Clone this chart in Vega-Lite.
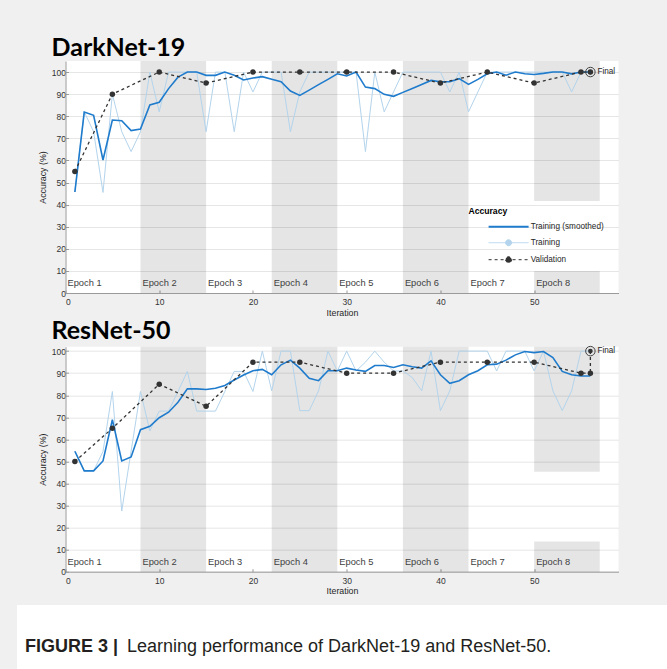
{
  "$schema": "https://vega.github.io/schema/vega-lite/v6.json",
  "background": "#f0f0f0",
  "padding": {"top": 36, "left": 17, "right": 0, "bottom": 0},
  "center": true,
  "spacing": 9,
  "resolve": {"scale": {"color": "independent"}, "legend": {"color": "independent"}},
  "config": {
    "font": "Liberation Sans",
    "view": {"fill": "white", "stroke": null},
    "axis": {
      "labelFont": "Liberation Sans", "labelFontSize": 8.5, "labelColor": "#333333",
      "titleFont": "Liberation Sans", "titleFontSize": 8.8, "titleFontWeight": "normal", "titleColor": "#262626",
      "domainColor": "#9a9a9a", "tickColor": "#9a9a9a", "gridColor": "#e6e6e6", "tickSize": -3
    },
    "legend": {
      "orient": "none", "padding": 0,
      "titleFont": "Liberation Sans", "titleFontSize": 8.6, "titleFontWeight": "bold", "titleColor": "#000000",
      "labelFont": "Liberation Sans", "labelFontSize": 8.2, "labelColor": "#262626",
      "rowPadding": 6, "titlePadding": 7, "symbolOffset": 36, "labelOffset": 18, "symbolSize": 100
    }
  },
  "datasets": {
    "bands_dn": [
      {"i": 8, "i2": 15, "v": 0, "v2": 105},
      {"i": 22, "i2": 29, "v": 0, "v2": 105},
      {"i": 36, "i2": 43, "v": 0, "v2": 105},
      {"i": 50, "i2": 57, "v": 41.6, "v2": 105},
      {"i": 50, "i2": 57, "v": 0, "v2": 10}
    ],
    "bands_rn": [
      {"i": 8, "i2": 15, "v": 0, "v2": 102},
      {"i": 22, "i2": 29, "v": 0, "v2": 102},
      {"i": 36, "i2": 43, "v": 0, "v2": 102},
      {"i": 50, "i2": 57, "v": 45.3, "v2": 102},
      {"i": 50, "i2": 57, "v": 0, "v2": 13.7}
    ],
    "epochs": [
      {"i": 0, "v": 4.5, "label": "Epoch 1"},
      {"i": 8, "v": 4.5, "label": "Epoch 2"},
      {"i": 15, "v": 4.5, "label": "Epoch 3"},
      {"i": 22, "v": 4.5, "label": "Epoch 4"},
      {"i": 29, "v": 4.5, "label": "Epoch 5"},
      {"i": 36, "v": 4.5, "label": "Epoch 6"},
      {"i": 43, "v": 4.5, "label": "Epoch 7"},
      {"i": 50, "v": 4.5, "label": "Epoch 8"}
    ],
    "final_dn": [{"i": 56, "v": 100, "label": "Final"}],
    "final_rn": [{"i": 56, "v": 100, "v0": 90, "label": "Final"}],
    "dn": [
      {"s":"Training","i":1,"v":45.7},{"s":"Training","i":2,"v":82},{"s":"Training","i":3,"v":73},{"s":"Training","i":4,"v":45.5},
      {"s":"Training","i":5,"v":90},{"s":"Training","i":6,"v":73},{"s":"Training","i":7,"v":64},{"s":"Training","i":8,"v":73},
      {"s":"Training","i":9,"v":100},{"s":"Training","i":10,"v":82},{"s":"Training","i":11,"v":100},{"s":"Training","i":12,"v":100},
      {"s":"Training","i":13,"v":100},{"s":"Training","i":14,"v":100},{"s":"Training","i":15,"v":73},{"s":"Training","i":16,"v":100},
      {"s":"Training","i":17,"v":100},{"s":"Training","i":18,"v":73},{"s":"Training","i":19,"v":100},{"s":"Training","i":20,"v":91},
      {"s":"Training","i":21,"v":100},{"s":"Training","i":22,"v":100},{"s":"Training","i":23,"v":100},{"s":"Training","i":24,"v":73},
      {"s":"Training","i":25,"v":91},{"s":"Training","i":26,"v":100},{"s":"Training","i":27,"v":100},{"s":"Training","i":28,"v":100},
      {"s":"Training","i":29,"v":100},{"s":"Training","i":30,"v":100},{"s":"Training","i":31,"v":100},{"s":"Training","i":32,"v":64},
      {"s":"Training","i":33,"v":100},{"s":"Training","i":34,"v":82},{"s":"Training","i":35,"v":91},{"s":"Training","i":36,"v":100},
      {"s":"Training","i":37,"v":100},{"s":"Training","i":38,"v":100},{"s":"Training","i":39,"v":100},{"s":"Training","i":40,"v":100},
      {"s":"Training","i":41,"v":91},{"s":"Training","i":42,"v":100},{"s":"Training","i":43,"v":82},{"s":"Training","i":44,"v":91},
      {"s":"Training","i":45,"v":100},{"s":"Training","i":46,"v":100},{"s":"Training","i":47,"v":100},{"s":"Training","i":48,"v":100},
      {"s":"Training","i":49,"v":100},{"s":"Training","i":50,"v":100},{"s":"Training","i":51,"v":100},{"s":"Training","i":52,"v":100},
      {"s":"Training","i":53,"v":100},{"s":"Training","i":54,"v":91},{"s":"Training","i":55,"v":100},{"s":"Training","i":56,"v":100},
      {"s":"Training (smoothed)","i":1,"v":45.7},{"s":"Training (smoothed)","i":2,"v":81.9},{"s":"Training (smoothed)","i":3,"v":80.4},{"s":"Training (smoothed)","i":4,"v":60.2},
      {"s":"Training (smoothed)","i":5,"v":78.3},{"s":"Training (smoothed)","i":6,"v":78},{"s":"Training (smoothed)","i":7,"v":73.5},{"s":"Training (smoothed)","i":8,"v":74.2},
      {"s":"Training (smoothed)","i":9,"v":85.1},{"s":"Training (smoothed)","i":10,"v":86.3},{"s":"Training (smoothed)","i":11,"v":92.5},{"s":"Training (smoothed)","i":12,"v":97.7},
      {"s":"Training (smoothed)","i":13,"v":100},{"s":"Training (smoothed)","i":14,"v":100},{"s":"Training (smoothed)","i":15,"v":98.5},{"s":"Training (smoothed)","i":16,"v":98.5},
      {"s":"Training (smoothed)","i":17,"v":100},{"s":"Training (smoothed)","i":18,"v":98.5},{"s":"Training (smoothed)","i":19,"v":96.4},{"s":"Training (smoothed)","i":20,"v":97.3},
      {"s":"Training (smoothed)","i":21,"v":97.9},{"s":"Training (smoothed)","i":22,"v":96.7},{"s":"Training (smoothed)","i":23,"v":95.6},{"s":"Training (smoothed)","i":24,"v":91.4},
      {"s":"Training (smoothed)","i":25,"v":89.4},{"s":"Training (smoothed)","i":26,"v":91.8},{"s":"Training (smoothed)","i":27,"v":94.3},{"s":"Training (smoothed)","i":28,"v":96.7},
      {"s":"Training (smoothed)","i":29,"v":99.2},{"s":"Training (smoothed)","i":30,"v":98.2},{"s":"Training (smoothed)","i":31,"v":100},{"s":"Training (smoothed)","i":32,"v":93.2},
      {"s":"Training (smoothed)","i":33,"v":92.5},{"s":"Training (smoothed)","i":34,"v":89.9},{"s":"Training (smoothed)","i":35,"v":89},{"s":"Training (smoothed)","i":36,"v":90.8},
      {"s":"Training (smoothed)","i":37,"v":92.6},{"s":"Training (smoothed)","i":38,"v":94.4},{"s":"Training (smoothed)","i":39,"v":96.2},{"s":"Training (smoothed)","i":40,"v":95.6},
      {"s":"Training (smoothed)","i":41,"v":95.6},{"s":"Training (smoothed)","i":42,"v":97},{"s":"Training (smoothed)","i":43,"v":94.4},{"s":"Training (smoothed)","i":44,"v":96.7},
      {"s":"Training (smoothed)","i":45,"v":99.2},{"s":"Training (smoothed)","i":46,"v":100},{"s":"Training (smoothed)","i":47,"v":98.6},{"s":"Training (smoothed)","i":48,"v":100},
      {"s":"Training (smoothed)","i":49,"v":99.2},{"s":"Training (smoothed)","i":50,"v":98.9},{"s":"Training (smoothed)","i":51,"v":99.4},{"s":"Training (smoothed)","i":52,"v":100},
      {"s":"Training (smoothed)","i":53,"v":100},{"s":"Training (smoothed)","i":54,"v":99.2},{"s":"Training (smoothed)","i":55,"v":100},{"s":"Training (smoothed)","i":56,"v":100},
      {"s":"Validation","i":1,"v":55},{"s":"Validation","i":5,"v":90},{"s":"Validation","i":10,"v":100},{"s":"Validation","i":15,"v":95},
      {"s":"Validation","i":20,"v":100},{"s":"Validation","i":25,"v":100},{"s":"Validation","i":30,"v":100},{"s":"Validation","i":35,"v":100},
      {"s":"Validation","i":40,"v":95},{"s":"Validation","i":45,"v":100},{"s":"Validation","i":50,"v":95},{"s":"Validation","i":55,"v":100},
      {"s":"Validation","i":56,"v":100}
    ],
    "rn": [
      {"s":"Training","i":1,"v":54.6},{"s":"Training","i":2,"v":45.7},{"s":"Training","i":3,"v":45.7},{"s":"Training","i":4,"v":54.5},
      {"s":"Training","i":5,"v":81.7},{"s":"Training","i":6,"v":27.5},{"s":"Training","i":7,"v":54.7},{"s":"Training","i":8,"v":81.7},
      {"s":"Training","i":9,"v":63.8},{"s":"Training","i":10,"v":72.8},{"s":"Training","i":11,"v":72.8},{"s":"Training","i":12,"v":81.7},
      {"s":"Training","i":13,"v":90.8},{"s":"Training","i":14,"v":72.8},{"s":"Training","i":15,"v":72.8},{"s":"Training","i":16,"v":72.8},
      {"s":"Training","i":17,"v":81.7},{"s":"Training","i":18,"v":90.8},{"s":"Training","i":19,"v":90.8},{"s":"Training","i":20,"v":81.7},
      {"s":"Training","i":21,"v":100},{"s":"Training","i":22,"v":82},{"s":"Training","i":23,"v":100},{"s":"Training","i":24,"v":100},
      {"s":"Training","i":25,"v":73},{"s":"Training","i":26,"v":73},{"s":"Training","i":27,"v":82},{"s":"Training","i":28,"v":100},
      {"s":"Training","i":29,"v":91},{"s":"Training","i":30,"v":100},{"s":"Training","i":31,"v":91},{"s":"Training","i":32,"v":95},
      {"s":"Training","i":33,"v":100},{"s":"Training","i":34,"v":95},{"s":"Training","i":35,"v":91},{"s":"Training","i":36,"v":91},
      {"s":"Training","i":37,"v":88},{"s":"Training","i":38,"v":82},{"s":"Training","i":39,"v":100},{"s":"Training","i":40,"v":73},
      {"s":"Training","i":41,"v":82},{"s":"Training","i":42,"v":100},{"s":"Training","i":43,"v":100},{"s":"Training","i":44,"v":100},
      {"s":"Training","i":45,"v":100},{"s":"Training","i":46,"v":91},{"s":"Training","i":47,"v":100},{"s":"Training","i":48,"v":100},
      {"s":"Training","i":49,"v":100},{"s":"Training","i":50,"v":91},{"s":"Training","i":51,"v":100},{"s":"Training","i":52,"v":82},
      {"s":"Training","i":53,"v":73},{"s":"Training","i":54,"v":82},{"s":"Training","i":55,"v":100},{"s":"Training","i":56,"v":100},
      {"s":"Training (smoothed)","i":1,"v":54.6},{"s":"Training (smoothed)","i":2,"v":45.7},{"s":"Training (smoothed)","i":3,"v":45.7},{"s":"Training (smoothed)","i":4,"v":50.2},
      {"s":"Training (smoothed)","i":5,"v":68.9},{"s":"Training (smoothed)","i":6,"v":50.2},{"s":"Training (smoothed)","i":7,"v":52},{"s":"Training (smoothed)","i":8,"v":64.4},
      {"s":"Training (smoothed)","i":9,"v":65.9},{"s":"Training (smoothed)","i":10,"v":69.8},{"s":"Training (smoothed)","i":11,"v":72.3},{"s":"Training (smoothed)","i":12,"v":76.8},
      {"s":"Training (smoothed)","i":13,"v":82.9},{"s":"Training (smoothed)","i":14,"v":82.9},{"s":"Training (smoothed)","i":15,"v":82.6},{"s":"Training (smoothed)","i":16,"v":83.2},
      {"s":"Training (smoothed)","i":17,"v":84.4},{"s":"Training (smoothed)","i":18,"v":86.9},{"s":"Training (smoothed)","i":19,"v":89.2},{"s":"Training (smoothed)","i":20,"v":91.1},
      {"s":"Training (smoothed)","i":21,"v":91.7},{"s":"Training (smoothed)","i":22,"v":89.3},{"s":"Training (smoothed)","i":23,"v":93.8},{"s":"Training (smoothed)","i":24,"v":95.9},
      {"s":"Training (smoothed)","i":25,"v":92.3},{"s":"Training (smoothed)","i":26,"v":87.7},{"s":"Training (smoothed)","i":27,"v":86.6},{"s":"Training (smoothed)","i":28,"v":91.1},
      {"s":"Training (smoothed)","i":29,"v":91.1},{"s":"Training (smoothed)","i":30,"v":92.3},{"s":"Training (smoothed)","i":31,"v":91.4},{"s":"Training (smoothed)","i":32,"v":90.8},
      {"s":"Training (smoothed)","i":33,"v":93.5},{"s":"Training (smoothed)","i":34,"v":93.5},{"s":"Training (smoothed)","i":35,"v":92.6},{"s":"Training (smoothed)","i":36,"v":93.8},
      {"s":"Training (smoothed)","i":37,"v":92.9},{"s":"Training (smoothed)","i":38,"v":92.3},{"s":"Training (smoothed)","i":39,"v":95.6},{"s":"Training (smoothed)","i":40,"v":89.3},
      {"s":"Training (smoothed)","i":41,"v":85.4},{"s":"Training (smoothed)","i":42,"v":86.6},{"s":"Training (smoothed)","i":43,"v":89.3},{"s":"Training (smoothed)","i":44,"v":91.1},
      {"s":"Training (smoothed)","i":45,"v":93.8},{"s":"Training (smoothed)","i":46,"v":94.1},{"s":"Training (smoothed)","i":47,"v":95.9},{"s":"Training (smoothed)","i":48,"v":98.3},
      {"s":"Training (smoothed)","i":49,"v":99.8},{"s":"Training (smoothed)","i":50,"v":99.3},{"s":"Training (smoothed)","i":51,"v":99.8},{"s":"Training (smoothed)","i":52,"v":97.1},
      {"s":"Training (smoothed)","i":53,"v":90.8},{"s":"Training (smoothed)","i":54,"v":89.3},{"s":"Training (smoothed)","i":55,"v":88.7},{"s":"Training (smoothed)","i":56,"v":88.7},
      {"s":"Validation","i":1,"v":50},{"s":"Validation","i":5,"v":65},{"s":"Validation","i":10,"v":85},{"s":"Validation","i":15,"v":75},
      {"s":"Validation","i":20,"v":95},{"s":"Validation","i":25,"v":95},{"s":"Validation","i":30,"v":90},{"s":"Validation","i":35,"v":90},
      {"s":"Validation","i":40,"v":95},{"s":"Validation","i":45,"v":95},{"s":"Validation","i":50,"v":95},{"s":"Validation","i":55,"v":90},
      {"s":"Validation","i":56,"v":90}
    ]
  },
  "vconcat": [
    {
      "vconcat": [
        {
          "width": 553, "height": 232,
          "title": {"text": "DarkNet-19", "anchor": "start", "frame": "group", "dx": -14, "font": "Lato", "fontSize": 25, "fontWeight": "bold", "color": "#000000", "offset": 0},
          "encoding": {
            "x": {"field": "i", "type": "quantitative", "scale": {"domain": [0, 59], "nice": false, "zero": false},
                  "axis": {"values": [0, 10, 20, 30, 40, 50], "grid": false, "title": "Iteration", "labelPadding": 7.5, "titlePadding": 2}},
            "y": {"field": "v", "type": "quantitative", "scale": {"domain": [0, 105], "nice": false},
                  "axis": {"values": [0, 10, 20, 30, 40, 50, 60, 70, 80, 90, 100], "grid": true, "title": "Accuracy (%)", "labelPadding": 3, "titlePadding": 4}}
          },
          "layer": [
            {"data": {"name": "bands_dn"}, "mark": {"type": "rect", "fill": "#000000", "opacity": 0.1},
             "encoding": {"x2": {"field": "i2"}, "y2": {"field": "v2"}}},
            {"data": {"name": "epochs"}, "mark": {"type": "text", "align": "left", "baseline": "middle", "dx": 2, "fontSize": 9.3, "color": "#404040"},
             "encoding": {"text": {"field": "label"}}},
            {"data": {"name": "dn"}, "transform": [{"filter": "datum.s === 'Training'"}],
             "mark": {"type": "line", "strokeWidth": 1},
             "encoding": {"color": {"field": "s", "type": "nominal",
                "scale": {"domain": ["Training (smoothed)", "Training", "Validation"], "range": ["#1f7bcc", "#b3d4ec", "#333333"]},
                "legend": {"legendX": 403, "legendY": 146, "title": "Accuracy",
                  "encode": {"symbols": {"update": {
                    "shape": {"signal": "datum.value === 'Training (smoothed)' ? 'M-4,0H4' : 'M-4,0H4M0.6,0A0.6,0.6,0,1,1,-0.6,0A0.6,0.6,0,1,1,0.6,0'"},
                    "fill": {"signal": "datum.value === 'Training' ? '#b3d4ec' : datum.value === 'Validation' ? '#333333' : 'transparent'"},
                    "strokeDash": {"signal": "datum.value === 'Validation' ? [3,3] : [1,0]"},
                    "strokeWidth": {"signal": "datum.value === 'Training (smoothed)' ? 2 : 1"},
                    "size": {"value": 100}, "opacity": {"value": 1}
                  }}}}}}},
            {"data": {"name": "dn"}, "transform": [{"filter": "datum.s === 'Training (smoothed)'"}],
             "mark": {"type": "line", "strokeWidth": 1.6},
             "encoding": {"color": {"field": "s", "type": "nominal"}}},
            {"data": {"name": "dn"}, "transform": [{"filter": "datum.s === 'Validation'"}],
             "mark": {"type": "line", "strokeWidth": 1.3, "strokeDash": [3, 3], "point": {"filled": true, "size": 30}},
             "encoding": {"color": {"field": "s", "type": "nominal"}}},
            {"data": {"name": "final_dn"}, "mark": {"type": "point", "shape": "circle", "filled": false, "size": 90, "stroke": "#444444", "strokeWidth": 1, "opacity": 1}},
            {"data": {"name": "final_dn"}, "mark": {"type": "point", "shape": "circle", "filled": true, "size": 22, "color": "#333333", "opacity": 1}},
            {"data": {"name": "final_dn"}, "mark": {"type": "text", "align": "left", "baseline": "middle", "dx": 7, "fontSize": 8.2, "color": "#262626"},
             "encoding": {"text": {"field": "label"}}}
          ]
        },
        {
          "width": 553, "height": 225,
          "title": {"text": "ResNet-50", "anchor": "start", "frame": "group", "dx": -14, "font": "Lato", "fontSize": 25, "fontWeight": "bold", "color": "#000000", "offset": 0},
          "encoding": {
            "x": {"field": "i", "type": "quantitative", "scale": {"domain": [0, 59], "nice": false, "zero": false},
                  "axis": {"values": [0, 10, 20, 30, 40, 50], "grid": false, "title": "Iteration", "labelPadding": 7.5, "titlePadding": 2}},
            "y": {"field": "v", "type": "quantitative", "scale": {"domain": [0, 102], "nice": false},
                  "axis": {"values": [0, 10, 20, 30, 40, 50, 60, 70, 80, 90, 100], "grid": true, "title": "Accuracy (%)", "labelPadding": 3, "titlePadding": 4}}
          },
          "layer": [
            {"data": {"name": "bands_rn"}, "mark": {"type": "rect", "fill": "#000000", "opacity": 0.1},
             "encoding": {"x2": {"field": "i2"}, "y2": {"field": "v2"}}},
            {"data": {"name": "epochs"}, "mark": {"type": "text", "align": "left", "baseline": "middle", "dx": 2, "fontSize": 9.3, "color": "#404040"},
             "encoding": {"text": {"field": "label"}}},
            {"data": {"name": "rn"}, "transform": [{"filter": "datum.s === 'Training'"}],
             "mark": {"type": "line", "strokeWidth": 1},
             "encoding": {"color": {"field": "s", "type": "nominal",
                "scale": {"domain": ["Training (smoothed)", "Training", "Validation"], "range": ["#1f7bcc", "#b3d4ec", "#333333"]},
                "legend": {"legendX": 403, "legendY": 132, "title": "Accuracy",
                  "encode": {"symbols": {"update": {
                    "shape": {"signal": "datum.value === 'Training (smoothed)' ? 'M-4,0H4' : 'M-4,0H4M0.6,0A0.6,0.6,0,1,1,-0.6,0A0.6,0.6,0,1,1,0.6,0'"},
                    "fill": {"signal": "datum.value === 'Training' ? '#b3d4ec' : datum.value === 'Validation' ? '#333333' : 'transparent'"},
                    "strokeDash": {"signal": "datum.value === 'Validation' ? [3,3] : [1,0]"},
                    "strokeWidth": {"signal": "datum.value === 'Training (smoothed)' ? 2 : 1"},
                    "size": {"value": 100}, "opacity": {"value": 1}
                  }}}}}}},
            {"data": {"name": "rn"}, "transform": [{"filter": "datum.s === 'Training (smoothed)'"}],
             "mark": {"type": "line", "strokeWidth": 1.6},
             "encoding": {"color": {"field": "s", "type": "nominal"}}},
            {"data": {"name": "rn"}, "transform": [{"filter": "datum.s === 'Validation'"}],
             "mark": {"type": "line", "strokeWidth": 1.3, "strokeDash": [3, 3], "point": {"filled": true, "size": 30}},
             "encoding": {"color": {"field": "s", "type": "nominal"}}},
            {"data": {"name": "final_rn"}, "mark": {"type": "rule", "strokeWidth": 1.3, "strokeDash": [3, 3], "color": "#333333"},
             "encoding": {"y2": {"field": "v0"}}},
            {"data": {"name": "final_rn"}, "mark": {"type": "point", "shape": "circle", "filled": false, "size": 90, "stroke": "#444444", "strokeWidth": 1, "opacity": 1}},
            {"data": {"name": "final_rn"}, "mark": {"type": "point", "shape": "circle", "filled": true, "size": 22, "color": "#333333", "opacity": 1}},
            {"data": {"name": "final_rn"}, "mark": {"type": "text", "align": "left", "baseline": "middle", "dx": 7, "fontSize": 8.2, "color": "#262626"},
             "encoding": {"text": {"field": "label"}}}
          ]
        }
      ],
      "spacing": 1.7
    },
    {
      "width": 650, "height": 64,
      "data": {"values": [{"a": "FIGURE 3 |", "b": "Learning performance of DarkNet-19 and ResNet-50."}]},
      "layer": [
        {"mark": {"type": "text", "align": "left", "baseline": "alphabetic", "fontSize": 18, "fontWeight": "bold", "font": "Liberation Sans", "color": "#231f20"},
         "encoding": {"text": {"field": "a"}, "x": {"value": 8}, "y": {"value": 47}}},
        {"mark": {"type": "text", "align": "left", "baseline": "alphabetic", "fontSize": 18, "fontWeight": "normal", "font": "Liberation Sans", "color": "#231f20"},
         "encoding": {"text": {"field": "b"}, "x": {"value": 110}, "y": {"value": 47}}}
      ]
    }
  ]
}
